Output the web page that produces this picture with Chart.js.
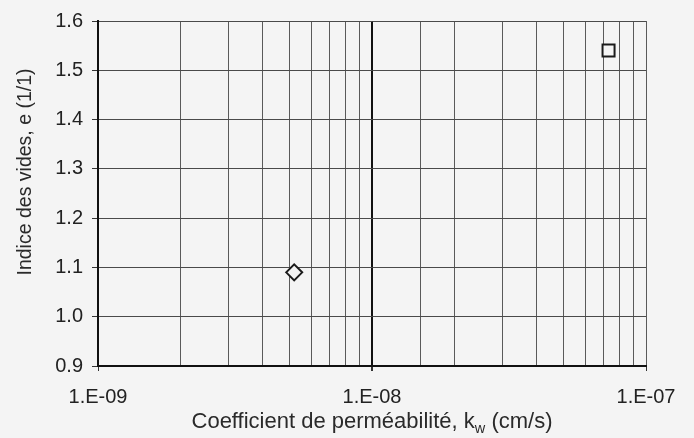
<!DOCTYPE html>
<html>
<head>
<meta charset="utf-8">
<script src="https://cdn.jsdelivr.net/npm/chart.js@4/dist/chart.umd.min.js"></script>
<style>
  html, body { margin: 0; padding: 0; background: #f4f4f4; }
  #wrap { width: 694px; height: 438px; position: relative; }
</style>
</head>
<body>
<div id="wrap"><canvas id="chart" width="694" height="438"></canvas></div>
<script>
// Essais de perméabilité : indice des vides en fonction de k_w
const seriesDiamondK = [5.2e-9];
const seriesDiamondE = [1.09];
const seriesSquareK = [7.3e-8];
const seriesSquareE = [1.54];

const xMin = 1e-9, xMax = 1e-7;
const yMin = 0.9, yMax = 1.6, yStep = 0.1;

const xTitleMain = 'Coefficient de perméabilité, k';
const xTitleSub = 'w';
const xTitleTail = ' (cm/s)';
const yTitle = 'Indice des vides, e (1/1)';

const FONT = "'Liberation Sans', Arial, Helvetica, sans-serif";
const BG = '#f4f4f4';

function isDecade(v) {
  const e = Math.round(Math.log10(v));
  return Math.abs(v / Math.pow(10, e) - 1) < 1e-6;
}
function sciLabel(v) {
  const e = Math.round(Math.log10(v));
  const a = Math.abs(e);
  return '1.E' + (e < 0 ? '-' : '+') + (a < 10 ? '0' + a : String(a));
}

function toPoints(xs, ys) {
  return xs.map((x, i) => ({ x: x, y: ys[i] }));
}

const backdrop = {
  id: 'backdrop',
  beforeDraw(chart) {
    const ctx = chart.ctx;
    ctx.save();
    ctx.fillStyle = BG;
    ctx.fillRect(0, 0, chart.width, chart.height);
    ctx.restore();
  }
};

// Axis titles (the x title carries a subscript)
const axisTitles = {
  id: 'axisTitles',
  afterDraw(chart) {
    const ctx = chart.ctx;
    const area = chart.chartArea;
    ctx.save();
    ctx.fillStyle = '#2a2a2a';
    ctx.textBaseline = 'alphabetic';

    // x title
    const mainFont = '22px ' + FONT;
    const subFont = '14.5px ' + FONT;
    ctx.font = mainFont;
    const wMain = ctx.measureText(xTitleMain).width;
    const wTail = ctx.measureText(xTitleTail).width;
    ctx.font = subFont;
    const wSub = ctx.measureText(xTitleSub).width;
    const total = wMain + wSub + wTail;
    const cx = (area.left + area.right) / 2;
    let x = cx - total / 2;
    const base = 428;
    ctx.textAlign = 'left';
    ctx.font = mainFont;
    ctx.fillText(xTitleMain, x, base);
    x += wMain;
    ctx.font = subFont;
    ctx.fillText(xTitleSub, x, base + 5);
    x += wSub;
    ctx.font = mainFont;
    ctx.fillText(xTitleTail, x, base);

    // y title
    ctx.translate(26, 172);
    ctx.rotate(-Math.PI / 2);
    ctx.font = '19.5px ' + FONT;
    ctx.textAlign = 'center';
    ctx.textBaseline = 'middle';
    ctx.fillText(yTitle, 0, 0);
    ctx.restore();
  }
};

const markerStyle = {
  borderColor: '#1a1a1a',
  backgroundColor: BG,
  borderWidth: 2,
  showLine: false
};

new Chart(document.getElementById('chart'), {
  type: 'scatter',
  data: {
    datasets: [
      Object.assign({
        label: 'Losange',
        data: toPoints(seriesDiamondK, seriesDiamondE),
        pointStyle: 'rectRot',
        pointRadius: 8,
        pointHoverRadius: 8
      }, markerStyle),
      Object.assign({
        label: 'Carré',
        data: toPoints(seriesSquareK, seriesSquareE),
        pointStyle: 'rect',
        pointRadius: 8.5,
        pointHoverRadius: 8.5
      }, markerStyle)
    ]
  },
  options: {
    responsive: false,
    animation: false,
    devicePixelRatio: 1,
    layout: { padding: { top: 21, right: 48, left: 0, bottom: 0 } },
    plugins: {
      legend: { display: false },
      tooltip: { enabled: false },
      title: { display: false }
    },
    scales: {
      x: {
        type: 'logarithmic',
        min: xMin,
        max: xMax,
        afterFit(scale) { scale.height = 72; },
        border: { display: true, color: '#111', width: 2 },
        grid: {
          drawTicks: true,
          tickLength: 5,
          color: (c) => (c.tick && Math.abs(c.tick.value - 1e-8) < 1e-12) ? '#111' : '#5a5a5a',
          lineWidth: (c) => (c.tick && Math.abs(c.tick.value - 1e-8) < 1e-12) ? 2 : 1,
          tickColor: (c) => (c.tick && isDecade(c.tick.value)) ? '#333' : 'rgba(0,0,0,0)'
        },
        ticks: {
          autoSkip: false,
          maxRotation: 0,
          minRotation: 0,
          padding: 14,
          color: '#222',
          font: { family: FONT, size: 20 },
          callback: (v) => isDecade(v) ? sciLabel(v) : ''
        }
      },
      y: {
        type: 'linear',
        min: yMin,
        max: yMax,
        afterFit(scale) { scale.width = 98; },
        border: { display: true, color: '#111', width: 2 },
        grid: {
          drawTicks: true,
          tickLength: 6,
          color: '#4a4a4a',
          lineWidth: 1,
          tickColor: '#333'
        },
        ticks: {
          stepSize: yStep,
          padding: 9,
          color: '#222',
          font: { family: FONT, size: 20 },
          callback: (v) => Number(v).toFixed(1)
        }
      }
    }
  },
  plugins: [backdrop, axisTitles]
});
</script>
</body>
</html>
